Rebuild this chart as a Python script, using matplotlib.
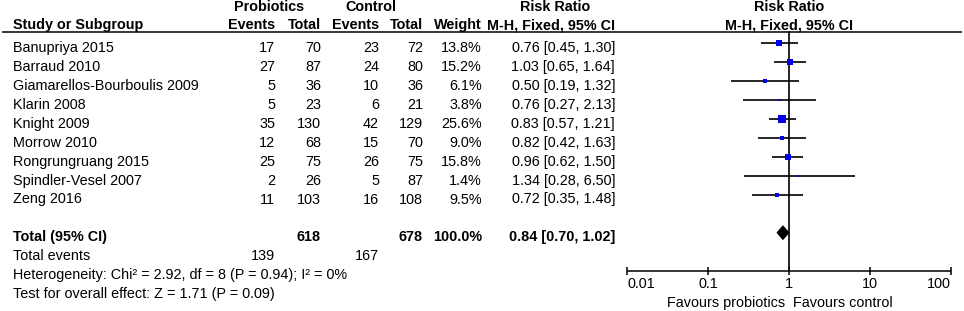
import matplotlib
matplotlib.use("Agg")
import matplotlib.pyplot as plt
import numpy as np

plt.rcParams['font.family'] = ['Liberation Sans', 'DejaVu Sans']

# ---------------- data ----------------
studies = ["Banupriya 2015", "Barraud 2010", "Giamarellos-Bourboulis 2009",
           "Klarin 2008", "Knight 2009", "Morrow 2010", "Rongrungruang 2015",
           "Spindler-Vesel 2007", "Zeng 2016"]
prob_events = [17, 27, 5, 5, 35, 12, 25, 2, 11]
prob_total = [70, 87, 36, 23, 130, 68, 75, 26, 103]
ctrl_events = [23, 24, 10, 6, 42, 15, 26, 5, 16]
ctrl_total = [72, 80, 36, 21, 129, 70, 75, 87, 108]
weights = [13.8, 15.2, 6.1, 3.8, 25.6, 9.0, 15.8, 1.4, 9.5]
rr = [0.76, 1.03, 0.50, 0.76, 0.83, 0.82, 0.96, 1.34, 0.72]
rr_lo = [0.45, 0.65, 0.19, 0.27, 0.57, 0.42, 0.62, 0.28, 0.35]
rr_hi = [1.30, 1.64, 1.32, 2.13, 1.21, 1.63, 1.50, 6.50, 1.48]

total_prob = 618
total_ctrl = 678
total_weight = 100.0
total_rr = 0.84
total_lo = 0.70
total_hi = 1.02
total_events_prob = 139
total_events_ctrl = 167
het_text = "Heterogeneity: Chi\u00b2 = 2.92, df = 8 (P = 0.94); I\u00b2 = 0%"
test_text = "Test for overall effect: Z = 1.71 (P = 0.09)"

tick_vals = [0.01, 0.1, 1, 10, 100]
tick_labels = ["0.01", "0.1", "1", "10", "100"]

# ---------------- figure ----------------
W, H = 964, 311
fig = plt.figure(figsize=(W / 100, H / 100), dpi=100)
fig.patch.set_facecolor("white")
ax = fig.add_axes([0, 0, 1, 1])
ax.set_xlim(0, W)
ax.set_ylim(H, 0)
ax.axis("off")

# forest axes: 0.01 at x=627 px, 100 at x=951 px
fx0, fx1 = 627, 951
fa = fig.add_axes([fx0 / W, 0, (fx1 - fx0) / W, 1])
fa.set_xscale("log")
fa.set_xlim(0.01, 100)
fa.set_ylim(H, 0)
fa.axis("off")
fa.patch.set_alpha(0)

FS = 10.4
txt = dict(fontsize=FS, color="black", va="baseline")

# column right edges
c_pe, c_pt, c_ce, c_ct, c_w, c_rr = 275, 321, 379, 423, 482, 615
left = 13

# header
ax.text(269, 11, "Probiotics", ha="center", fontweight="bold", **txt)
ax.text(371, 11, "Control", ha="center", fontweight="bold", **txt)
ax.text(555, 11, "Risk Ratio", ha="center", fontweight="bold", **txt)
ax.text(789, 11, "Risk Ratio", ha="center", fontweight="bold", **txt)
hy = 29
ax.text(left, hy, "Study or Subgroup", ha="left", fontweight="bold", **txt)
ax.text(c_pe, hy, "Events", ha="right", fontweight="bold", **txt)
ax.text(c_pt, hy, "Total", ha="right", fontweight="bold", **txt)
ax.text(c_ce, hy, "Events", ha="right", fontweight="bold", **txt)
ax.text(c_ct, hy, "Total", ha="right", fontweight="bold", **txt)
ax.text(c_w, hy, "Weight", ha="right", fontweight="bold", **txt)
ax.text(c_rr, hy, "M-H, Fixed, 95% CI", ha="right", fontweight="bold", **txt)
ax.text(789, hy, "M-H, Fixed, 95% CI", ha="center", fontweight="bold", **txt)
ax.plot([2, 962], [32.3, 32.3], color="black", lw=1.1, solid_capstyle="butt")

# study rows
base0, step = 52.3, 18.9
for i, s in enumerate(studies):
    y = base0 + step * i
    ax.text(left, y, s, ha="left", **txt)
    ax.text(c_pe, y, str(prob_events[i]), ha="right", **txt)
    ax.text(c_pt, y, str(prob_total[i]), ha="right", **txt)
    ax.text(c_ce, y, str(ctrl_events[i]), ha="right", **txt)
    ax.text(c_ct, y, str(ctrl_total[i]), ha="right", **txt)
    ax.text(c_w, y, f"{weights[i]:.1f}%", ha="right", **txt)
    ax.text(c_rr, y, f"{rr[i]:.2f} [{rr_lo[i]:.2f}, {rr_hi[i]:.2f}]", ha="right", **txt)
    ym = y - 9
    fa.plot([rr_lo[i], rr_hi[i]], [ym, ym], color="black", lw=1.2, solid_capstyle="butt", zorder=2)
    side_px = max(1.5 * np.sqrt(weights[i]), 2.5)
    fa.plot([rr[i]], [ym], marker="s", ms=side_px * 0.72, color="#0000EE",
            mec="#0000EE", mew=0, ls="none", zorder=3)

# totals
ty = 240.7
ax.text(left, ty, "Total (95% CI)", ha="left", fontweight="bold", **txt)
ax.text(c_pt, ty, str(total_prob), ha="right", fontweight="bold", **txt)
ax.text(c_ct, ty, str(total_ctrl), ha="right", fontweight="bold", **txt)
ax.text(c_w, ty, f"{total_weight:.1f}%", ha="right", fontweight="bold", **txt)
ax.text(c_rr, ty, f"{total_rr:.2f} [{total_lo:.2f}, {total_hi:.2f}]", ha="right",
        fontweight="bold", **txt)
ax.text(left, 260, "Total events", ha="left", **txt)
ax.text(c_pe, 260, str(total_events_prob), ha="right", **txt)
ax.text(c_ce, 260, str(total_events_ctrl), ha="right", **txt)
ax.text(left, 279, het_text, ha="left", **txt)
ax.text(left, 298, test_text, ha="left", **txt)

dy = ty - 8
fa.fill([total_lo, total_rr, total_hi, total_rr], [dy, dy - 7.5, dy, dy + 7.5],
        color="black", lw=0, zorder=3)

# vertical line of no effect
axis_y = 270.7
fa.plot([1, 1], [32.3, axis_y], color="black", lw=1.2, zorder=1)

# x axis
fa.plot([tick_vals[0], tick_vals[-1]], [axis_y, axis_y], color="black", lw=1.1,
        solid_capstyle="butt", clip_on=False)
for j, (tv, tl) in enumerate(zip(tick_vals, tick_labels)):
    fa.plot([tv, tv], [axis_y - 4, axis_y + 4.3], color="black", lw=1.1,
            solid_capstyle="butt", clip_on=False)
    ha = "center"
    if j == 0:
        ha = "left"
    elif j == len(tick_vals) - 1:
        ha = "right"
    fa.text(tv, 288.5, tl, ha=ha, fontsize=FS, va="baseline", clip_on=False)

fa.text(0.9, 307, "Favours probiotics", ha="right", fontsize=FS, va="baseline")
fa.text(1.12, 307, "Favours control", ha="left", fontsize=FS, va="baseline")

fig.savefig("out.png", dpi=100, facecolor="white")
